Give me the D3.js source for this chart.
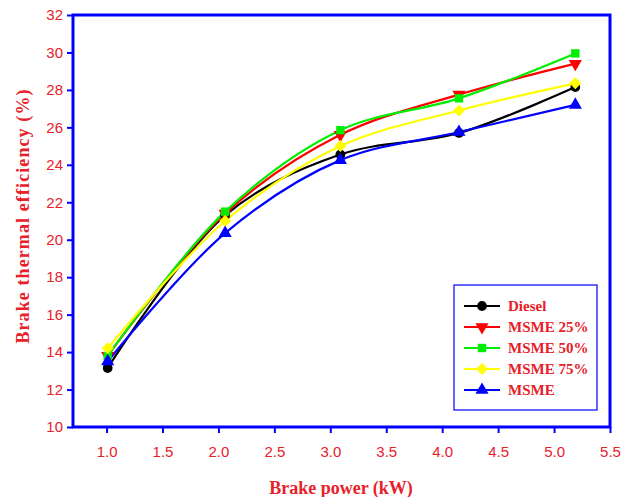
<!DOCTYPE html>
<html><head><meta charset="utf-8">
<script src="https://cdn.jsdelivr.net/npm/d3@7"></script>
<style>body{margin:0;background:#fff}</style>
</head><body>
<svg id="c" width="634" height="497"></svg>
<script>
const xValues = [1.01, 2.06, 3.09, 4.15, 5.19];
const seriesNames = ["Diesel", "MSME 25%", "MSME 50%", "MSME 75%", "MSME"];
const diesel = [13.15, 21.3, 24.55, 25.7, 28.15];
const msme25 = [13.8, 21.4, 25.6, 27.75, 29.4];
const msme50 = [13.8, 21.5, 25.85, 27.55, 29.95];
const msme75 = [14.2, 21.0, 25.0, 26.9, 28.35];
const msme100 = [13.5, 20.35, 24.25, 25.75, 27.2];
const xTicks = [1.0, 1.5, 2.0, 2.5, 3.0, 3.5, 4.0, 4.5, 5.0, 5.5];
const yTicks = [10, 12, 14, 16, 18, 20, 22, 24, 26, 28, 30, 32];

const colors = ["#000000", "#ff0000", "#00ee00", "#ffff00", "#0000ff"];
const symbols = ["circle", "down", "square", "diamond", "up"];
const allSeries = [diesel, msme25, msme50, msme75, msme100];

const svg = d3.select("#c");
const L = 73, R = 610, T = 15, B = 427;
const x = d3.scaleLinear().domain([0.7, 5.5]).range([L, R]);
const y = d3.scaleLinear().domain([10, 32]).range([B, T]);
const red = "#e8202a";

// axes
const gx = svg.append("g").attr("transform", `translate(0,${B})`)
  .call(d3.axisBottom(x).tickValues(xTicks).tickFormat(d3.format(".1f")).tickSize(6).tickSizeOuter(0));
const gy = svg.append("g").attr("transform", `translate(${L},0)`)
  .call(d3.axisLeft(y).tickValues(yTicks).tickFormat(d3.format("d")).tickSize(6).tickSizeOuter(0));
[gx, gy].forEach(g => {
  g.select(".domain").remove();
  g.selectAll(".tick line").attr("stroke", "#0000ff").attr("stroke-width", 2);
  g.selectAll(".tick text").attr("fill", red).attr("font-family", "Liberation Sans, Arial, sans-serif").attr("font-size", 15);
});
gx.selectAll(".tick text").attr("dy", "1.4em");
gy.selectAll(".tick text").attr("dx", "-1");

// frame
svg.append("rect").attr("x", L).attr("y", T).attr("width", R - L).attr("height", B - T)
  .attr("fill", "none").attr("stroke", "#0000ff").attr("stroke-width", 3);

function sym(s) {
  if (s === "circle") return d3.symbol().type(d3.symbolCircle).size(75)();
  if (s === "square") return d3.symbol().type(d3.symbolSquare).size(70)();
  if (s === "diamond") return "M0,-6L6,0L0,6L-6,0Z";
  return d3.symbol().type(d3.symbolTriangle).size(75)();
}
function rot(s) { return s === "down" ? " rotate(180)" : ""; }

const line = d3.line().x((d, i) => x(xValues[i])).y(d => y(d)).curve(d3.curveCatmullRom.alpha(0.5));
allSeries.forEach((s, k) => {
  svg.append("path").datum(s).attr("d", line).attr("fill", "none")
    .attr("stroke", colors[k]).attr("stroke-width", 2.2);
});
allSeries.forEach((s, k) => {
  svg.selectAll(null).data(s).enter().append("path")
    .attr("d", sym(symbols[k]))
    .attr("transform", (d, i) => `translate(${x(xValues[i])},${y(d)})` + rot(symbols[k]))
    .attr("fill", colors[k]);
});

// legend
const lg = svg.append("g");
lg.append("rect").attr("x", 454).attr("y", 285).attr("width", 143).attr("height", 125)
  .attr("fill", "#fff").attr("stroke", "#0000ff").attr("stroke-width", 1.2);
seriesNames.forEach((n, k) => {
  const yy = 306 + k * 21;
  lg.append("line").attr("x1", 464).attr("x2", 500).attr("y1", yy).attr("y2", yy)
    .attr("stroke", colors[k]).attr("stroke-width", 2.2);
  lg.append("path").attr("d", sym(symbols[k]))
    .attr("transform", `translate(482,${yy})` + rot(symbols[k]))
    .attr("fill", colors[k]);
  lg.append("text").attr("x", 508).attr("y", yy + 5).text(n)
    .attr("fill", red).attr("font-family", "Liberation Serif, Times New Roman, serif")
    .attr("font-weight", "bold").attr("font-size", 15);
});

// titles
svg.append("text").attr("x", 341).attr("y", 494).attr("text-anchor", "middle")
  .text("Brake power (kW)").attr("fill", red)
  .attr("font-family", "Liberation Serif, Times New Roman, serif").attr("font-weight", "bold").attr("font-size", 18);
svg.append("text").attr("transform", "translate(29,216) rotate(-90)").attr("text-anchor", "middle")
  .text("Brake thermal efficiency (%)").attr("fill", red).attr("letter-spacing", 1.1)
  .attr("font-family", "Liberation Serif, Times New Roman, serif").attr("font-weight", "bold").attr("font-size", 18);
</script>
</body></html>
